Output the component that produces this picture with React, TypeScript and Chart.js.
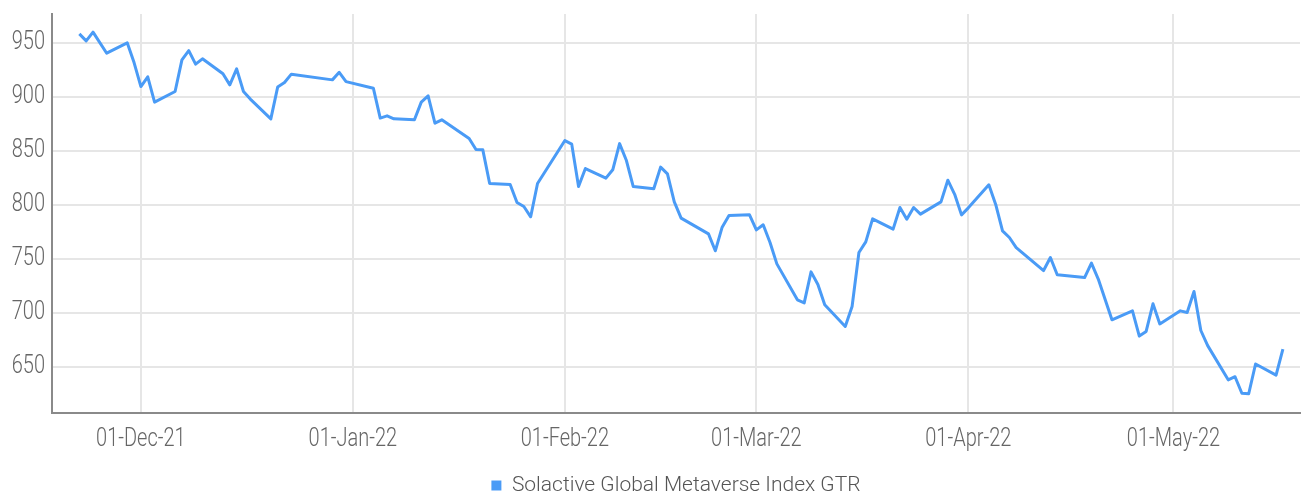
import React, { useEffect, useRef } from 'react';
import { Chart, registerables } from 'chart.js';

Chart.register(...registerables);

const dates = [
  '2021-11-22', '2021-11-23', '2021-11-24', '2021-11-26', '2021-11-29', '2021-11-30',
  '2021-12-01', '2021-12-02', '2021-12-03', '2021-12-06', '2021-12-07', '2021-12-08',
  '2021-12-09', '2021-12-10', '2021-12-13', '2021-12-14', '2021-12-15', '2021-12-16',
  '2021-12-17', '2021-12-20', '2021-12-21', '2021-12-22', '2021-12-23', '2021-12-29',
  '2021-12-30', '2021-12-31', '2022-01-04', '2022-01-05', '2022-01-06', '2022-01-07',
  '2022-01-10', '2022-01-11', '2022-01-12', '2022-01-13', '2022-01-14', '2022-01-18',
  '2022-01-19', '2022-01-20', '2022-01-21', '2022-01-24', '2022-01-25', '2022-01-26',
  '2022-01-27', '2022-01-28', '2022-02-01', '2022-02-02', '2022-02-03', '2022-02-04',
  '2022-02-07', '2022-02-08', '2022-02-09', '2022-02-10', '2022-02-11', '2022-02-14',
  '2022-02-15', '2022-02-16', '2022-02-17', '2022-02-18', '2022-02-22', '2022-02-23',
  '2022-02-24', '2022-02-25', '2022-02-28', '2022-03-01', '2022-03-02', '2022-03-03',
  '2022-03-04', '2022-03-07', '2022-03-08', '2022-03-09', '2022-03-10', '2022-03-11',
  '2022-03-14', '2022-03-15', '2022-03-16', '2022-03-17', '2022-03-18', '2022-03-21',
  '2022-03-22', '2022-03-23', '2022-03-24', '2022-03-25', '2022-03-28', '2022-03-29',
  '2022-03-30', '2022-03-31', '2022-04-01', '2022-04-04', '2022-04-05', '2022-04-06',
  '2022-04-07', '2022-04-08', '2022-04-12', '2022-04-13', '2022-04-14', '2022-04-18',
  '2022-04-19', '2022-04-20', '2022-04-22', '2022-04-25', '2022-04-26', '2022-04-27',
  '2022-04-28', '2022-04-29', '2022-05-02', '2022-05-03', '2022-05-04', '2022-05-05',
  '2022-05-06', '2022-05-09', '2022-05-10', '2022-05-11', '2022-05-12', '2022-05-13',
  '2022-05-16', '2022-05-17',
];

const values = [
  958.6, 952.1, 960.2, 940.7, 950.3, 932.0,
  909.8, 918.8, 895.4, 905.2, 934.5, 943.1,
  930.6, 935.5, 921.6, 911.4, 926.2, 905.2,
  898.2, 879.9, 909.3, 913.5, 921.3, 916.0,
  923.0, 914.4, 908.2, 880.6, 882.7, 879.9,
  879.0, 895.4, 901.2, 875.9, 879.0, 861.7,
  851.5, 851.2, 820.0, 819.1, 802.4, 798.7,
  789.2, 820.0, 859.8, 856.5, 817.2, 833.9,
  825.0, 832.7, 857.0, 841.3, 817.2, 815.1,
  835.2, 829.0, 803.0, 788.0, 773.4, 757.7,
  779.6, 790.4, 791.0, 777.1, 781.8, 765.4,
  745.6, 712.3, 709.5, 738.2, 726.5, 707.7,
  687.6, 706.1, 756.1, 766.0, 787.3, 777.8,
  797.8, 787.0, 797.8, 791.7, 803.0, 823.1,
  810.0, 791.0, 797.5, 818.8, 800.6, 776.2,
  770.0, 760.7, 739.4, 751.5, 735.5, 732.9,
  746.3, 731.5, 693.8, 702.1, 678.7, 683.0,
  708.6, 690.0, 702.1, 700.6, 720.0, 683.9,
  669.9, 638.2, 641.1, 625.8, 625.3, 652.9,
  642.6, 666.6,
];

const tickDates = ['2021-12-01', '2022-01-01', '2022-02-01', '2022-03-01', '2022-04-01', '2022-05-01'];
const tickLabels = ['01-Dec-21', '01-Jan-22', '01-Feb-22', '01-Mar-22', '01-Apr-22', '01-May-22'];
const yTicks = [650, 700, 750, 800, 850, 900, 950];
const seriesName = 'Solactive Global Metaverse Index GTR';

const ts = (s: string) => {
  const [y, m, d] = s.split('-').map(Number);
  return Date.UTC(y, m - 1, d);
};

const LINE_COLOR = '#4a9bf6';
const FONT_FAMILY = "Roboto, 'DejaVu Sans Condensed', sans-serif";
const TICK_SIZE = 25;
const TICK_STRETCH = 0.8;

// Draws the axis tick labels slightly condensed (the reference uses a narrow face).
const condensePlugin = {
  id: 'condenseTicks',
  beforeDraw(chart: any) {
    const ctx: any = chart.ctx;
    if (ctx.__condensed) return;
    const orig = ctx.fillText;
    ctx.fillText = function (text: string, x: number, y: number, maxWidth?: number) {
      if (typeof this.font === 'string' && this.font.indexOf(TICK_SIZE + 'px') >= 0) {
        this.save();
        this.translate(x, y);
        this.scale(TICK_STRETCH, 1);
        if (maxWidth === undefined) orig.call(this, text, 0, 0);
        else orig.call(this, text, 0, 0, maxWidth / TICK_STRETCH);
        this.restore();
      } else if (maxWidth === undefined) {
        orig.call(this, text, x, y);
      } else {
        orig.call(this, text, x, y, maxWidth);
      }
    };
    ctx.__condensed = true;
  },
};

export default function App() {
  const ref = useRef<HTMLCanvasElement | null>(null);

  useEffect(() => {
    if (!ref.current) return;
    const points = dates.map((d, i) => ({ x: ts(d), y: values[i] }));
    const chart = new Chart(ref.current, {
      type: 'line',
      data: {
        datasets: [
          {
            label: seriesName,
            data: points,
            borderColor: LINE_COLOR,
            backgroundColor: LINE_COLOR,
            borderWidth: 3,
            pointRadius: 0,
            tension: 0,
            fill: false,
            borderJoinStyle: 'round',
          },
        ],
      },
      plugins: [condensePlugin],
      options: {
        animation: false,
        responsive: false,
        layout: { padding: { top: 14, right: 6, left: 0, bottom: 0 } },
        plugins: {
          tooltip: { enabled: false },
          legend: {
            position: 'bottom',
            fullSize: false,
            labels: {
              boxWidth: 10,
              boxHeight: 10,
              padding: 10,
              color: '#555',
              font: { family: FONT_FAMILY, size: 21, weight: '300' },
              generateLabels: (c: any) =>
                (Chart.defaults.plugins.legend.labels as any)
                  .generateLabels(c)
                  .map((l: any) => ({ ...l, lineWidth: 0, fillStyle: LINE_COLOR })),
            },
          },
        },
        scales: {
          x: {
            type: 'linear',
            min: ts('2021-11-18'),
            max: ts('2022-05-19') + 12 * 3600 * 1000,
            afterBuildTicks: (scale: any) => {
              scale.ticks = tickDates.map((d) => ({ value: ts(d) }));
            },
            afterFit: (scale: any) => {
              scale.height = 52;
              scale.paddingLeft = 0;
              scale.paddingRight = 0;
            },
            ticks: {
              autoSkip: false,
              maxRotation: 0,
              padding: 12,
              color: '#666',
              font: { family: FONT_FAMILY, size: TICK_SIZE, weight: '300' },
              callback: (value: any) => {
                const i = tickDates.findIndex((d) => ts(d) === value);
                return i >= 0 ? tickLabels[i] : '';
              },
            },
            grid: { color: '#e6e6e6', lineWidth: 2, drawTicks: false },
            border: { color: '#8a8a8a', width: 2 },
          },
          y: {
            type: 'linear',
            min: 607.5,
            max: 977,
            afterBuildTicks: (scale: any) => {
              scale.ticks = yTicks.map((v) => ({ value: v }));
            },
            afterFit: (scale: any) => {
              scale.width = 52;
              scale.paddingTop = 0;
              scale.paddingBottom = 0;
            },
            ticks: {
              padding: 7,
              color: '#666',
              font: { family: FONT_FAMILY, size: TICK_SIZE, weight: '300' },
            },
            grid: { color: '#e6e6e6', lineWidth: 2, drawTicks: false },
            border: { color: '#8a8a8a', width: 2 },
          },
        },
      },
    } as any);
    return () => chart.destroy();
  }, []);

  return (
    <div
      style={{
        position: 'fixed',
        left: 0,
        top: 0,
        width: 1306,
        height: 495,
        overflow: 'hidden',
        background: '#fff',
      }}
    >
      <canvas ref={ref} width={1306} height={506} style={{ display: 'block' }} />
    </div>
  );
}
